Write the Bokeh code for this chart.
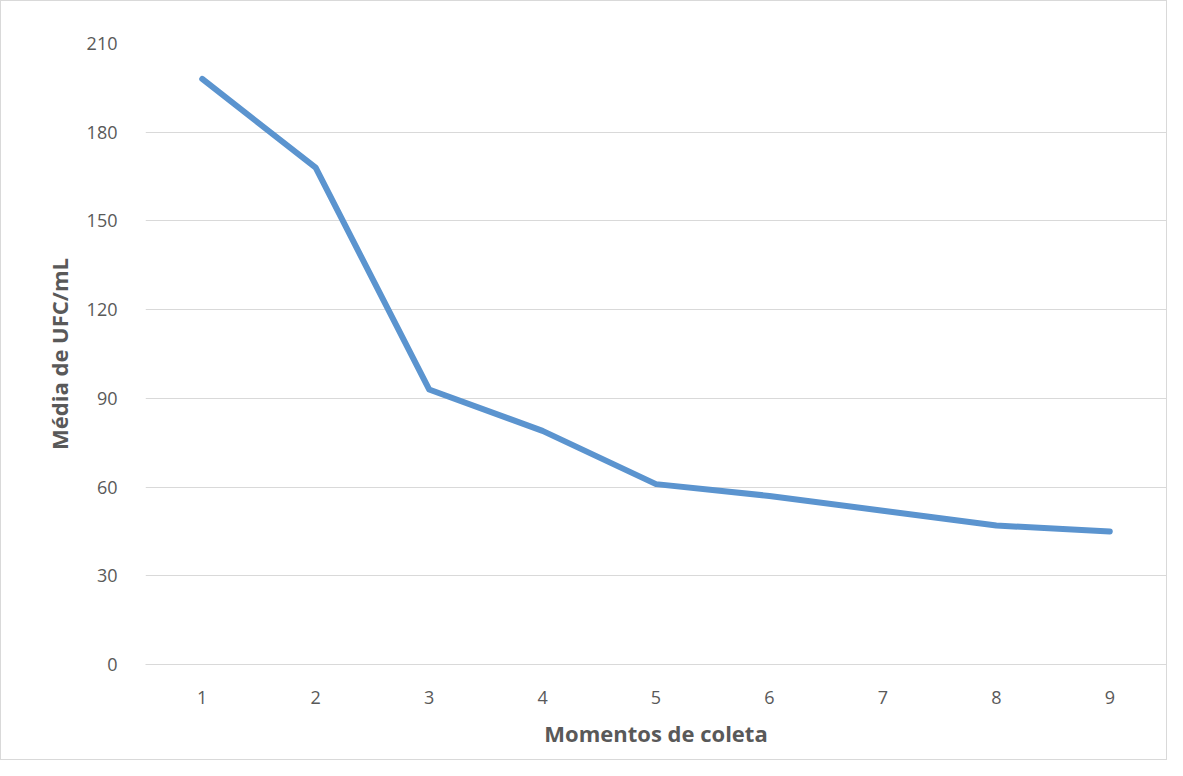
from bokeh.plotting import figure
from bokeh.models import FixedTicker, Range1d
from bokeh.embed import file_html
from bokeh.resources import INLINE

momentos = [1, 2, 3, 4, 5, 6, 7, 8, 9]
media_ufc = [198, 168, 93, 79, 61, 57, 52, 47, 45]
y_ticks = [0, 30, 60, 90, 120, 150, 180, 210]

FONT = "Open Sans"

p = figure(width=1167, height=760, output_backend="svg", toolbar_location=None,
           x_range=Range1d(0.5, 9.5), y_range=Range1d(0, 210),
           min_border_left=144, min_border_right=2, min_border_top=42, min_border_bottom=97)
p.styles = {"border": "1px solid #d9d9d9"}
p.outline_line_color = None
p.background_fill_color = "white"
p.border_fill_color = "white"

p.line(momentos, media_ufc, line_width=6, line_color="#5B94CF", line_cap="round", line_join="round")

p.xaxis.ticker = FixedTicker(ticks=momentos)
p.yaxis.ticker = FixedTicker(ticks=y_ticks)
p.xgrid.grid_line_color = None
p.ygrid.grid_line_color = "#d9d9d9"
p.ygrid.grid_line_width = 1

for ax in (p.xaxis[0], p.yaxis[0]):
    ax.major_tick_line_color = None
    ax.minor_tick_line_color = None
    ax.major_label_text_font = FONT
    ax.major_label_text_font_size = "18px"
    ax.major_label_text_color = "#595959"
    ax.axis_label_text_font = FONT
    ax.axis_label_text_font_size = "22px"
    ax.axis_label_text_font_style = "bold"
    ax.axis_label_text_color = "#595959"

p.yaxis.axis_line_color = None
p.xaxis.axis_line_color = "#d9d9d9"
p.yaxis.major_label_standoff = 22
p.xaxis.major_label_standoff = 20
p.xaxis.axis_label = "Momentos de coleta"
p.yaxis.axis_label = "Média de UFC/mL"
p.xaxis.axis_label_standoff = 11
p.yaxis.axis_label_standoff = 10

open("out.html", "w").write(file_html(p, INLINE))
